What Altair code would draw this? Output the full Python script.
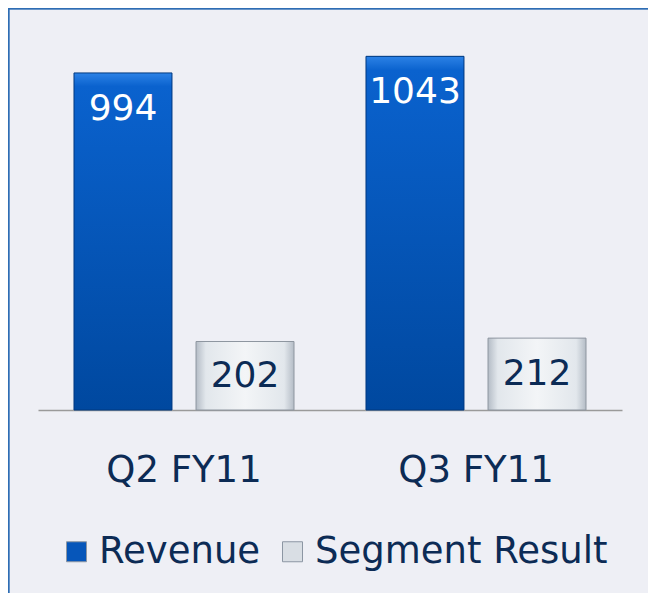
import altair as alt
import pandas as pd

categories = ["Q2 FY11", "Q3 FY11"]
series_names = ["Revenue", "Segment Result"]
revenue = [994, 1043]
segment = [202, 212]

rows = []
for i, c in enumerate(categories):
    rows.append({"quarter": c, "series": series_names[0], "value": revenue[i]})
    rows.append({"quarter": c, "series": series_names[1], "value": segment[i]})
df = pd.DataFrame(rows)

FONT = "DejaVu Sans"
NAVY = "#0C2B55"
BG = "#EEEFF5"

x_enc = alt.X("quarter:N", sort=categories, title=None,
              scale=alt.Scale(paddingInner=0, paddingOuter=0),
              axis=alt.Axis(labelAngle=0, ticks=False, domainColor="#9A9A9A",
                            domainWidth=1.5, labelFont=FONT, labelFontSize=37,
                            labelColor=NAVY, labelPadding=42, grid=False))
xo_enc = alt.XOffset("series:N", sort=series_names,
                     scale=alt.Scale(paddingInner=0.197, paddingOuter=0.295))
y_enc = alt.Y("value:Q", scale=alt.Scale(domain=[0, 1100], nice=False), axis=None)

base = alt.Chart(df).encode(x=x_enc, xOffset=xo_enc)

bars = base.mark_bar().encode(
    y=y_enc,
    color=alt.Color("series:N", sort=series_names,
                    scale=alt.Scale(domain=series_names, range=["#0656BA", "#D9DEE4"]),
                    legend=alt.Legend(title=None, orient="none", legendX=20, legendY=496,
                                      direction="horizontal", symbolType="square",
                                      symbolSize=400, symbolStrokeColor="#8C96A3",
                                      symbolStrokeWidth=1, symbolOpacity=1,
                                      labelFont=FONT, labelFontSize=37, labelColor=NAVY,
                                      columnPadding=13, labelOffset=4, labelLimit=400)),
)

rev_grad = alt.LinearGradient(
    gradient="linear", x1=0, x2=0, y1=0, y2=1,
    stops=[alt.GradientStop(offset=0, color="#2C82E6"),
           alt.GradientStop(offset=0.04, color="#0A62CE"),
           alt.GradientStop(offset=1, color="#00489F")])
seg_grad = alt.LinearGradient(
    gradient="linear", x1=0, x2=1, y1=0, y2=0,
    stops=[alt.GradientStop(offset=0, color="#B4BCC6"),
           alt.GradientStop(offset=0.1, color="#E2E7EC"),
           alt.GradientStop(offset=0.5, color="#F3F5F7"),
           alt.GradientStop(offset=0.9, color="#E2E7EC"),
           alt.GradientStop(offset=1, color="#B4BCC6")])

rev_bars = base.transform_filter(alt.datum.series == "Revenue").mark_bar(
    color=rev_grad, stroke="#00397F", strokeWidth=1).encode(y=y_enc)
seg_bars = base.transform_filter(alt.datum.series == "Segment Result").mark_bar(
    color=seg_grad, stroke="#8E96A0", strokeWidth=1).encode(y=y_enc)

rev_text = base.transform_filter(alt.datum.series == "Revenue").mark_text(
    font=FONT, fontSize=36, color="white", dy=36, baseline="middle").encode(
    y=y_enc, text=alt.Text("value:Q"))
seg_text = base.transform_filter(alt.datum.series == "Segment Result").transform_calculate(
    mid="datum.value / 2").mark_text(
    font=FONT, fontSize=36, color=NAVY, baseline="middle").encode(
    y=alt.Y("mid:Q", scale=alt.Scale(domain=[0, 1100], nice=False), axis=None),
    text=alt.Text("value:Q"))

frame_top = alt.Chart(df).mark_rule(color="#2E6DB4", strokeWidth=1.5).encode(
    x=alt.value(-30), x2=alt.value(610), y=alt.value(-28.5))
frame_left = alt.Chart(df).mark_rule(color="#2E6DB4", strokeWidth=1.5).encode(
    x=alt.value(-29.5), y=alt.value(-29), y2=alt.value(556))

chart = alt.layer(bars, rev_bars, seg_bars, rev_text, seg_text, frame_top, frame_left).properties(
    width=584, height=373,
    padding={"left": 30, "top": 29, "right": 26, "bottom": 183},
    autosize=alt.AutoSizeParams(type="none"),
    background=BG,
).configure_view(stroke=None)

chart.save("out.html", embed_options={"renderer": "svg", "actions": False})
